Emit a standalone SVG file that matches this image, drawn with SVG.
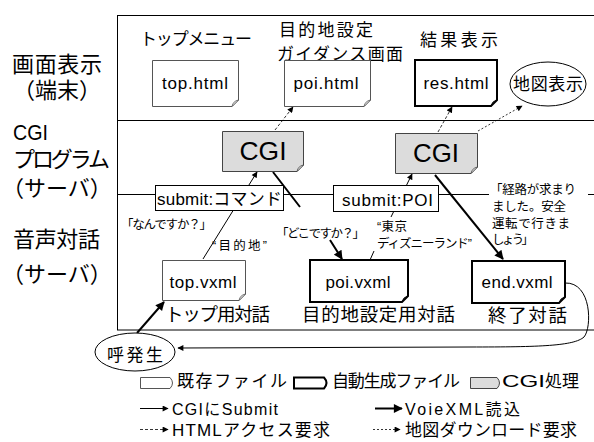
<svg xmlns="http://www.w3.org/2000/svg" width="594" height="442" viewBox="0 0 594 442">
<style>
text{font-family:"Liberation Sans","Noto Sans CJK JP",sans-serif;fill:#000}
.lbl{font-size:22px}
.hd{font-size:17px}
.bl{font-size:18.5px}
.nt{font-size:17px}
.cgi{font-size:25px}
.sm{font-size:12.5px}
.lg{font-size:16px}
.thin{fill:#fff;stroke:#555;stroke-width:1}
.thick{fill:#fff;stroke:#000;stroke-width:2}
.gray{fill:#dcdcdc;stroke:#444;stroke-width:1}
.foldw{fill:#fff;stroke:#555;stroke-width:0.8}
.foldb{fill:#222;stroke:#000;stroke-width:0.8}
.foldg{fill:#fff;stroke:#444;stroke-width:0.8}
.ln{fill:none;stroke:#000}
</style>
<defs>
<marker id="ah" viewBox="0 0 10 10" refX="9" refY="5" markerWidth="7" markerHeight="6" markerUnits="userSpaceOnUse" orient="auto"><path d="M0,0 L10,5 L0,10 Z" fill="#000"/></marker>
<marker id="ahb" viewBox="0 0 10 10" refX="9" refY="5" markerWidth="11" markerHeight="9" markerUnits="userSpaceOnUse" orient="auto"><path d="M0,0 L10,5 L0,10 Z" fill="#000"/></marker>
</defs>

<!-- frame -->
<g id="frame">
<rect x="117.5" y="15.5" width="485" height="314.5" fill="#fff" stroke="#000" stroke-width="1"/>
<line x1="117.5" y1="120.5" x2="594" y2="120.5" stroke="#000"/>
<line x1="117.5" y1="194.5" x2="594" y2="194.5" stroke="#000"/>
</g>

<!-- row labels -->
<g id="rowlabels">
<text class="lbl" x="12" y="72" textLength="90">画面表示</text>
<text class="lbl" x="13" y="98" font-size="20">（端末）</text>
<text class="lbl" x="13" y="140" font-size="21" textLength="35" lengthAdjust="spacingAndGlyphs">CGI</text>
<text class="lbl" x="13" y="167" textLength="97">プログラム</text>
<text class="lbl" x="2" y="196">（サーバ）</text>
<text class="lbl" x="13" y="247" textLength="87">音声対話</text>
<text class="lbl" x="2" y="282">（サーバ）</text>
</g>

<!-- top headings -->
<g id="headings">
<text class="hd" x="140" y="45" textLength="112">トップメニュー</text>
<text class="hd" x="279" y="36" font-size="18" textLength="94">目的地設定</text>
<text class="hd" x="277" y="60" font-size="18" textLength="126">ガイダンス画面</text>
<text class="hd" x="420" y="46" font-size="19" textLength="78">結果表示</text>
</g>

<!-- text backings -->
<rect x="489" y="180" width="99" height="68" fill="#fff"/>

<!-- connectors -->
<g id="connectors">
<line class="ln" x1="275" y1="130" x2="293" y2="107" stroke-width="0.8" stroke-dasharray="3,2" marker-end="url(#ah)"/>
<line class="ln" x1="438" y1="132" x2="452" y2="107" stroke-width="0.8" stroke-dasharray="3,2" marker-end="url(#ah)"/>
<line class="ln" x1="478" y1="131" x2="522" y2="106" stroke-width="0.8" stroke-dasharray="2,2" marker-end="url(#ah)"/>
<line class="ln" x1="203" y1="259" x2="257" y2="172" stroke-width="1" marker-end="url(#ah)"/>
<path class="ln" d="M370,260 L374,251 M391,217 L412,174" stroke-width="1" marker-end="url(#ah)"/>
<path class="ln" d="M273,172 L300,207 M330,240 L342,259" stroke-width="2" marker-end="url(#ahb)"/>
<line class="ln" x1="435" y1="175" x2="503" y2="259" stroke-width="2" marker-end="url(#ahb)"/>
<line class="ln" x1="137" y1="333" x2="164" y2="302" stroke-width="2" marker-end="url(#ahb)"/>
<path class="ln" d="M565,283 C592,282 592,328 584,337 C574,346 540,347 470,347 L178,348" stroke-width="1" marker-end="url(#ah)"/>
</g>

<!-- html nodes -->
<g id="top_html">
<path class="thin" d="M152.5,60.5 H238.5 V100 L232,106.5 H152.5 Z"/>
<path class="foldw" d="M238.5,100 L232,106.5 Q233,101 238.5,100 Z"/>
<text class="nt" x="195" y="89" text-anchor="middle" textLength="66">top.html</text>
</g>
<g id="poi_html">
<path class="thin" d="M284.5,60.5 H370.5 V100 L364,106.5 H284.5 Z"/>
<path class="foldw" d="M370.5,100 L364,106.5 Q365,101 370.5,100 Z"/>
<text class="nt" x="326" y="89" text-anchor="middle" textLength="65">poi.html</text>
</g>
<g id="res_html">
<path class="thick" d="M415,60 H497 V100 L491,106 H415 Z"/>
<path class="foldb" d="M497,100 L491,106 Q492,101 497,100 Z"/>
<text class="nt" x="456" y="89" text-anchor="middle" textLength="65">res.html</text>
</g>
<g id="map_view">
<ellipse cx="548" cy="84" rx="38" ry="22" fill="#fff" stroke="#000" stroke-width="1"/>
<text class="hd" x="548" y="90" font-size="18" text-anchor="middle" textLength="70">地図表示</text>
</g>

<!-- CGI nodes -->
<g id="cgi1">
<path class="gray" d="M222.5,131.5 H303.5 V165 L297,171.5 H222.5 Z"/>
<path class="foldg" d="M303.5,165 L297,171.5 Q298,166 303.5,165 Z"/>
<text class="cgi" x="263" y="160" text-anchor="middle" textLength="47" lengthAdjust="spacingAndGlyphs">CGI</text>
</g>
<g id="cgi2">
<path class="gray" d="M395.5,133.5 H477.5 V167 L471,173.5 H395.5 Z"/>
<path class="foldg" d="M477.5,167 L471,173.5 Q472,168 477.5,167 Z"/>
<text class="cgi" x="436" y="162" text-anchor="middle" textLength="46" lengthAdjust="spacingAndGlyphs">CGI</text>
</g>

<!-- submit labels -->
<g id="submit_cmd">
<rect x="155.5" y="185.5" width="128" height="25" fill="#fff" stroke="#000" stroke-width="1"/>
<text class="nt" x="157" y="205" textLength="125">submit:コマンド</text>
</g>
<g id="submit_poi">
<rect x="333.5" y="185.5" width="105" height="26" fill="#fff" stroke="#000" stroke-width="1"/>
<text class="nt" x="342" y="206" textLength="91">submit:POI</text>
</g>

<!-- utterances -->
<g id="utterances">
<text class="sm" x="121" y="229" textLength="91">「なんですか？」</text>
<text class="sm" x="212" y="250" textLength="55">“目的地”</text>
<text class="sm" x="276" y="238" textLength="89">「どこですか？」</text>
<text class="sm" x="377" y="231" textLength="30">“東京</text>
<text class="sm" x="377" y="248" textLength="95">ディズニーランド”</text>
<text class="sm" x="490" y="194" textLength="86">「経路が求まり</text>
<text class="sm" x="492" y="211" textLength="74">ました。安全</text>
<text class="sm" x="492" y="228" textLength="78">運転で行きま</text>
<text class="sm" x="492" y="244" textLength="42">しょう」</text>
</g>

<!-- vxml nodes -->
<g id="top_vxml">
<path class="thin" d="M162.5,260.5 H245.5 V294 L239,300.5 H162.5 Z"/>
<path class="foldw" d="M245.5,294 L239,300.5 Q240,295 245.5,294 Z"/>
<text class="nt" x="203" y="288" text-anchor="middle" textLength="67">top.vxml</text>
<text class="bl" x="165" y="321" textLength="105">トップ用対話</text>
</g>
<g id="poi_vxml">
<path class="thick" d="M310,260 H408 V296 L402,302 H310 Z"/>
<path class="foldb" d="M408,296 L402,302 Q403,297 408,296 Z"/>
<text class="nt" x="358" y="288" text-anchor="middle" textLength="65">poi.vxml</text>
<text class="bl" x="302" y="321" textLength="153">目的地設定用対話</text>
</g>
<g id="end_vxml">
<path class="thick" d="M472,261 H565 V297 L559,303 H472 Z"/>
<path class="foldb" d="M565,297 L559,303 Q560,298 565,297 Z"/>
<text class="nt" x="517" y="288" text-anchor="middle" textLength="71">end.vxml</text>
<text class="bl" x="488" y="322" font-size="19.5" textLength="79">終了対話</text>
</g>

<g id="call">
<ellipse cx="135" cy="352" rx="40" ry="19" fill="#fff" stroke="#000" stroke-width="1"/>
<text class="hd" x="135" y="361" font-size="18" text-anchor="middle" textLength="56">呼発生</text>
</g>

<!-- legend -->
<g id="legend">
<path class="thin" d="M140.5,377.5 H170 Q175,383 170,388.5 H140.5 Z"/>
<text class="hd" x="177" y="387" textLength="110">既存ファイル</text>
<path class="thick" d="M294,377.5 H324 Q329,383 324,388.5 H294 Z"/>
<text class="hd" x="332" y="387" textLength="128">自動生成ファイル</text>
<path class="gray" d="M470.5,377.5 H497 Q502,383 497,388.5 H470.5 Z"/>
<text class="hd" x="502" y="387"><tspan textLength="43" lengthAdjust="spacingAndGlyphs">CGI</tspan>処理</text>

<line class="ln" x1="140" y1="408.5" x2="168" y2="408.5" stroke-width="1" marker-end="url(#ah)"/>
<text class="lg" x="172" y="415" textLength="106">CGIにSubmit</text>
<line class="ln" x1="375" y1="408.5" x2="402" y2="408.5" stroke-width="2" marker-end="url(#ahb)"/>
<text class="lg" x="405" y="415" textLength="115">VoieXML読込</text>

<line class="ln" x1="140" y1="429.5" x2="168" y2="429.5" stroke-width="0.8" stroke-dasharray="3,2" marker-end="url(#ah)"/>
<text class="hd" x="172" y="436" textLength="158">HTMLアクセス要求</text>
<line class="ln" x1="373" y1="429.5" x2="400" y2="429.5" stroke-width="0.8" stroke-dasharray="2,2" marker-end="url(#ah)"/>
<text class="hd" x="405" y="436" textLength="172">地図ダウンロード要求</text>
</g>
</svg>
